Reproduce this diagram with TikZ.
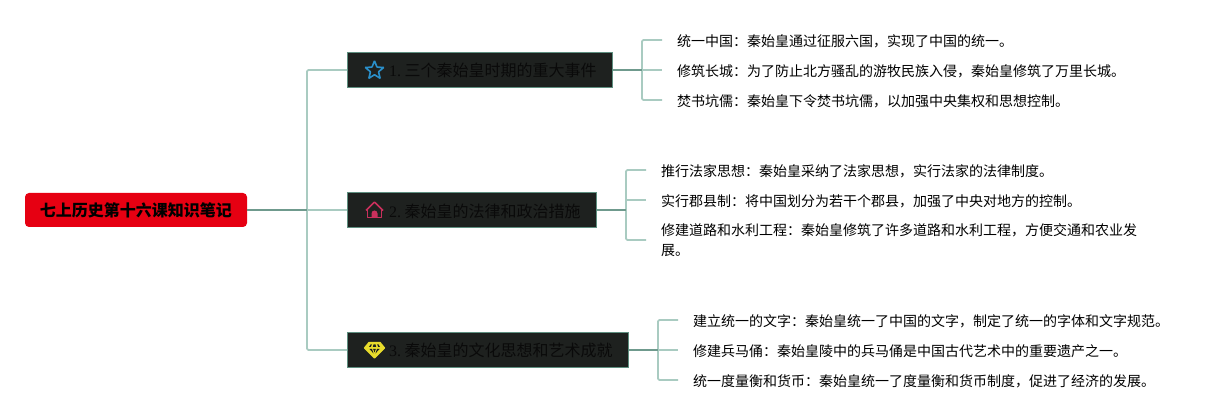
\documentclass[tikz,border=0pt]{standalone}
\usepackage{fontspec}
\setmainfont{Liberation Serif}
\newfontfamily\cjk{Noto Sans CJK SC}
\usetikzlibrary{shapes.geometric}
\definecolor{trunkc}{HTML}{A9CBC1}
\definecolor{darkc}{HTML}{6F9A8D}
\definecolor{boxfill}{HTML}{1E211F}
\definecolor{boxline}{HTML}{5E8F80}
\definecolor{rootc}{HTML}{E60012}
\definecolor{textc}{HTML}{0A0A0A}
\definecolor{starc}{HTML}{2A8FC9}
\definecolor{housec}{HTML}{C9305C}
\definecolor{gemc}{HTML}{E8DC2C}
\tikzset{
  x=0.75pt,y=-0.75pt,
  rootbox/.style={fill=rootc,rounded corners=3pt,inner sep=0pt,minimum width=166.5pt,minimum height=25.5pt,font=\fontsize{12}{14}\cjk\bfseries,text=black},
  branchbox/.style={fill=boxfill,draw=boxline,line width=1pt,inner xsep=0pt,inner ysep=0pt,minimum height=26pt,anchor=west,align=left,text=textc,font=\fontsize{12}{14}\selectfont},
  leaf/.style={anchor=west,inner xsep=11.25pt,inner ysep=0pt,outer sep=0pt,align=left,text=black,font=\fontsize{10.5}{15}\cjk,execute at begin node={\rule{0pt}{11pt}}},
  trunk/.style={draw=trunkc,line width=1.3pt,rounded corners=1pt},
  stem/.style={draw=darkc,line width=1.5pt},
}
\newcommand{\branchlabel}[2]{\hspace*{31pt}\rule{0pt}{11.5pt}{\rmfamily #1}\hspace{2.75pt}{\cjk #2}}
\begin{document}
\begin{tikzpicture}
\useasboundingbox (0,0) rectangle (1229,420);
% root and branches
\node[rootbox] (root) at (136,210) {七上历史第十六课知识笔记};
\node[branchbox,text width=198.75pt] (b1) at (347,70) {\branchlabel{1.}{三个秦始皇时期的重大事件}};
\node[branchbox,text width=186.75pt] (b2) at (347,210) {\branchlabel{2.}{秦始皇的法律和政治措施}};
\node[branchbox,text width=210.75pt] (b3) at (347,350) {\branchlabel{3.}{秦始皇的文化思想和艺术成就}};
% leaves
\node[leaf] (l11) at (662,40) {统一中国：秦始皇通过征服六国，实现了中国的统一。};
\node[leaf] (l12) at (662,70) {修筑长城：为了防止北方骚乱的游牧民族入侵，秦始皇修筑了万里长城。};
\node[leaf] (l13) at (662,100) {焚书坑儒：秦始皇下令焚书坑儒，以加强中央集权和思想控制。};
\node[leaf] (l21) at (646,170) {推行法家思想：秦始皇采纳了法家思想，实行法家的法律制度。};
\node[leaf] (l22) at (646,200) {实行郡县制：将中国划分为若干个郡县，加强了中央对地方的控制。};
\node[leaf] (l23) at (646,240) {修建道路和水利工程：秦始皇修筑了许多道路和水利工程，方便交通和农业发\\展。};
\node[leaf] (l31) at (678,320) {建立统一的文字：秦始皇统一了中国的文字，制定了统一的字体和文字规范。};
\node[leaf] (l32) at (678,350) {修建兵马俑：秦始皇陵中的兵马俑是中国古代艺术中的重要遗产之一。};
\node[leaf] (l33) at (678,380) {统一度量衡和货币：秦始皇统一了度量衡和货币制度，促进了经济的发展。};
% junctions
\coordinate (j0) at (307,210);
\coordinate (j1) at (642,70);
\coordinate (j2) at (626,210);
\coordinate (j3) at (658,350);
% connectors
\draw[trunk] (b1.west) -| (j0) |- (b3.west);
\draw[trunk] (j0) -- (b2.west);
\draw[stem] (root.east) -- (j0);
\draw[trunk] (l11.west) -| (j1) |- (l13.west);
\draw[trunk] (j1) -- (l12.west);
\draw[stem] (b1.east) -- (j1);
\draw[trunk] (l21.west) -| (j2) |- (l23.west);
\draw[trunk] (j2 |- l22.west) -- (l22.west);
\draw[stem] (b2.east) -- (j2);
\draw[trunk] (l31.west) -| (j3) |- (l33.west);
\draw[trunk] (j3) -- (l32.west);
\draw[stem] (b3.east) -- (j3);
% icons
\node[star,star points=5,star point ratio=2.3,draw=starc,line width=1.2pt,rounded corners=0.4pt,inner sep=0pt,minimum size=14.5pt] (staricon) at (374.5,70.5) {};
\draw[housec,line width=1.2pt,line join=round,rounded corners=0.5pt] (366,210.5) -- (374.5,202) -- (383,210.5);
\draw[housec,line width=1.2pt,line join=round] (367.5,209) -- (367.5,217.5) -- (381.5,217.5) -- (381.5,209);
\fill[housec] (371.5,217.5) -- (371.5,213.5) arc[start angle=180,end angle=0,radius=2.25pt] -- (377.5,217.5) -- cycle;
\fill[gemc,line join=round,draw=gemc,line width=1pt] (369,342.5) -- (380,342.5) -- (384.5,348) -- (374.5,358) -- (364.5,348) -- cycle;
\fill[boxfill] (369.5,349) -- (372,349) -- (373.6,353.5) -- cycle;
\fill[boxfill] (379.5,349) -- (377,349) -- (375.4,353.5) -- cycle;
\fill[boxfill] (373.2,349) -- (375.8,349) -- (374.5,352.5) -- cycle;
\fill[boxfill] (370.5,344.5) -- (371.8,344.5) -- (370.8,347) -- (369,347) -- cycle;
\fill[boxfill] (373.5,344.5) -- (375.5,344.5) -- (376.2,347) -- (372.8,347) -- cycle;
\fill[boxfill] (377.2,344.5) -- (378.5,344.5) -- (380,347) -- (378.2,347) -- cycle;
\end{tikzpicture}
\end{document}
